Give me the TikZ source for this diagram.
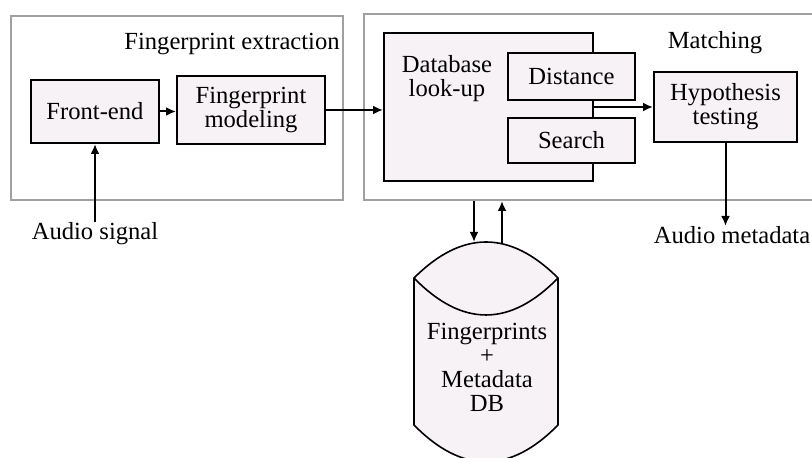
\documentclass[tikz,border=0pt]{standalone}
\usepackage{fontspec}
\setmainfont{Liberation Serif}
\usetikzlibrary{arrows.meta}
\definecolor{boxfill}{HTML}{F7F2F5}
\definecolor{framegray}{HTML}{A0A0A0}
\begin{document}
\begin{tikzpicture}[x=0.5pt,y=-0.5pt,
    font=\fontsize{12.3}{12}\selectfont,
    block/.style={draw=black,line width=1pt,fill=boxfill,align=center,inner sep=0pt},
    frame/.style={draw=framegray,line width=1pt,inner sep=0pt},
    label/.style={inner sep=0pt,align=center},
    arr/.style={line width=1pt,-{Latex[length=5pt,width=4.5pt]}}]
  \useasboundingbox (0,0) rectangle (812,458);
  \clip (0,0) rectangle (812,458);

  % Frames
  \node[frame,minimum width=166.15pt,minimum height=92.15pt] (extraction) at (176.85,107.85) {};
  \node[frame,minimum width=233pt,minimum height=93pt] (matching) at (597,107) {};
  \node[label] (extractiontext) at (232,44) {Fingerprint extraction};
  \node[label] (matchingtext) at (715,43) {Matching};

  % Extraction blocks
  \node[block,minimum width=64pt,minimum height=31.5pt] (frontend) at (95,111.5) {Front-end};
  \node[block,minimum width=74pt,minimum height=34pt] (fpmodel) at (251,110) {Fingerprint\\modeling};

  % Matching blocks
  \node[block,minimum width=104.5pt,minimum height=74pt] (lookup) at (488.5,107) {};
  \node[label] (lookuptext) at (447,79) {Database\\look-up};
  \node[block,minimum width=63.5pt,minimum height=23.5pt] (distance) at (571.5,76.5) {Distance};
  \node[block,minimum width=63.5pt,minimum height=22.5pt] (search) at (571.5,140.5) {Search};
  \node[block,minimum width=71.5pt,minimum height=35pt] (hypo) at (725.5,107) {Hypothesis\\testing};

  % Database cylinder
  \draw[line width=0.8pt,fill=boxfill] (414,278) .. controls (462,230) and (510,230) .. (558,278)
    -- (558,425) .. controls (510,474) and (462,474) .. (414,425) -- cycle;
  \draw[line width=0.8pt] (414,278) .. controls (462,327.3) and (510,327.3) .. (558,278);
  \node[label] (db) at (487,367) {Fingerprints\\+\\Metadata\\DB};
  \coordinate (dbin) at (474,242);
  \coordinate (dbout) at (502,243);

  % In/out texts
  \node[label] (signal) at (95,234) {Audio signal};
  \node[label] (metadata) at (732,235) {Audio metadata};

  % Connectors
  \draw[arr] (signal.north) -- (frontend.south);
  \draw[arr] (frontend.east) -- (frontend.east -| fpmodel.west);
  \draw[arr] (fpmodel.east) -- (fpmodel.east -| lookup.west);
  \draw[arr] (lookup.east) -- (hypo.west);
  \draw[arr] (hypo.south) -- (hypo.south |- metadata.north);
  \draw[arr] (matching.south -| dbin) -- (dbin);
  \draw[arr] (dbout) -- (matching.south -| dbout);
\end{tikzpicture}
\end{document}
